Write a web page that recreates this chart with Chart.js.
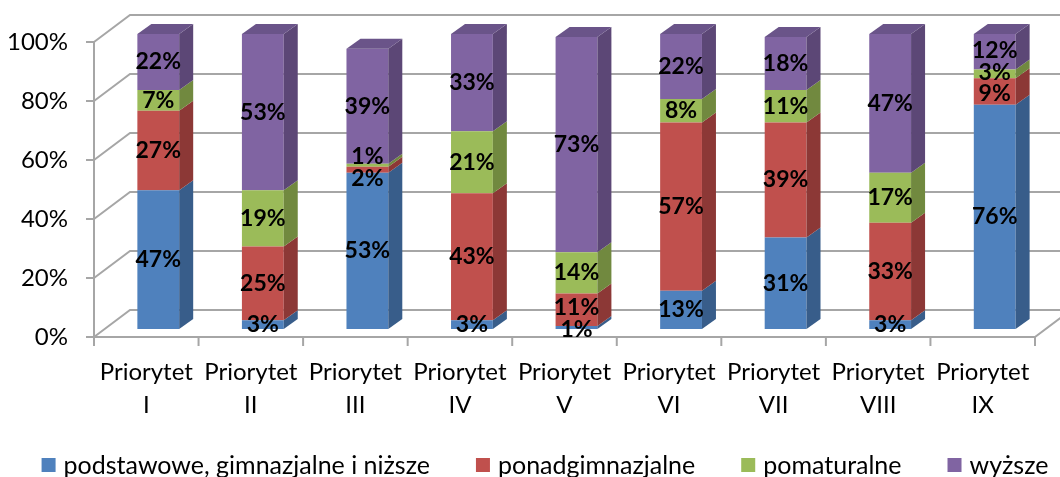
<!DOCTYPE html>
<html>
<head>
<meta charset="utf-8">
<script src="https://cdn.jsdelivr.net/npm/chart.js@4/dist/chart.umd.min.js"></script>
<style>
  html, body { margin: 0; padding: 0; background: #fff; }
  #wrap { width: 1060px; height: 477px; }
</style>
</head>
<body>
<div id="wrap"><canvas id="myChart" width="1060" height="477"></canvas></div>
<script>
// values (percent)
const categories = [
    ['Priorytet', 'I'], ['Priorytet', 'II'], ['Priorytet', 'III'],
    ['Priorytet', 'IV'], ['Priorytet', 'V'], ['Priorytet', 'VI'],
    ['Priorytet', 'VII'], ['Priorytet', 'VIII'], ['Priorytet', 'IX']
];
const seriesNames = ['podstawowe, gimnazjalne i niższe', 'ponadgimnazjalne', 'pomaturalne', 'wyższe'];
const podstawowe = [47, 3, 53, 3, 1, 13, 31, 3, 76];
const ponadgimnazjalne = [27, 25, 2, 43, 11, 57, 39, 33, 9];
const pomaturalne = [7, 19, 1, 21, 14, 8, 11, 17, 3];
const wyzsze = [22, 53, 39, 33, 73, 22, 18, 47, 12];
const yTicks = [0, 20, 40, 60, 80, 100];

const colors = ['#4f81bd', '#c0504d', '#9bbb59', '#8064a2'];
const sideColors = ['#385d8a', '#8c3836', '#71893f', '#5c4776'];
const topColors = ['#42699c', '#9c3f3c', '#7e9a48', '#6a5489'];

const FONT = 'Lato';
const gridColor = '#a6a6a6';
// 3d offsets relative to the bar front face
const front = { dx: -12, dy: 8 };
const back = { dx: 24, dy: -19 };
const barDepth = { dx: 14, dy: -10 };

function line(ctx, pts) {
    ctx.beginPath();
    ctx.moveTo(pts[0][0], pts[0][1]);
    for (let i = 1; i < pts.length; i++) ctx.lineTo(pts[i][0], pts[i][1]);
    ctx.stroke();
}
function poly(ctx, pts, color) {
    ctx.beginPath();
    ctx.moveTo(pts[0][0], pts[0][1]);
    for (let i = 1; i < pts.length; i++) ctx.lineTo(pts[i][0], pts[i][1]);
    ctx.closePath();
    ctx.fillStyle = color;
    ctx.fill();
}

const walls = {
    id: 'walls',
    beforeDatasetsDraw(chart) {
        const ctx = chart.ctx;
        const ys = chart.scales.y;
        const L = chart.chartArea.left, R = chart.chartArea.right;
        ctx.save();
        ctx.strokeStyle = gridColor;
        ctx.lineWidth = 2;
        yTicks.forEach(function(v) {
            const y = ys.getPixelForValue(v);
            line(ctx, [[L + front.dx, y + front.dy], [L + back.dx, y + back.dy], [R + back.dx + 30, y + back.dy]]);
            line(ctx, [[L + front.dx - 8, y + front.dy], [L + front.dx, y + front.dy]]);
        });
        const y0 = ys.getPixelForValue(0), y100 = ys.getPixelForValue(100);
        line(ctx, [[L + front.dx, y100 + front.dy], [L + front.dx, y0 + front.dy]]);
        line(ctx, [[L + front.dx, y0 + front.dy], [R + front.dx, y0 + front.dy], [R + back.dx, y0 + back.dy]]);
        const n = categories.length;
        for (let i = 0; i <= n; i++) {
            const x = L + front.dx + i * (R - L) / n;
            line(ctx, [[x, y0 + front.dy], [x, y0 + front.dy + 9]]);
        }
        ctx.restore();
    },
    afterDatasetsDraw(chart) {
        const ctx = chart.ctx;
        const top = chart.chartArea.top;
        const n = categories.length;
        ctx.save();
        for (let i = 0; i < n; i++) {
            let last = null;
            const labels = [];
            chart.data.datasets.forEach(function(ds, d) {
                const el = chart.getDatasetMeta(d).data[i];
                const v = ds.data[i];
                if (!v) return;
                const yt = Math.max(el.y, top), yb = el.base;
                const r = el.x + el.width / 2;
                poly(ctx, [[r, yt], [r + barDepth.dx, yt + barDepth.dy], [r + barDepth.dx, yb + barDepth.dy], [r, yb]], sideColors[d]);
                last = { el: el, d: d, yt: yt };
                labels.push({ text: v + '%', x: el.x, y: (yt + yb) / 2 });
            });
            if (last) {
                const l = last.el.x - last.el.width / 2, r = last.el.x + last.el.width / 2;
                poly(ctx, [[l, last.yt], [l + barDepth.dx, last.yt + barDepth.dy], [r + barDepth.dx, last.yt + barDepth.dy], [r, last.yt]], topColors[last.d]);
            }
            // push overlapping labels apart
            const minSep = 22;
            for (let k = 1; k < labels.length; k++) {
                const gap = labels[k - 1].y - labels[k].y;
                if (gap < minSep) {
                    const mid = (labels[k - 1].y + labels[k].y) / 2;
                    labels[k - 1].y = mid + minSep / 2;
                    labels[k].y = mid - minSep / 2;
                }
            }
            ctx.fillStyle = '#000';
            ctx.font = 'bold 23px ' + FONT;
            ctx.textAlign = 'center';
            ctx.textBaseline = 'middle';
            labels.forEach(function(lb) { ctx.fillText(lb.text, lb.x, lb.y); });
        }
        ctx.restore();
    },
    afterDraw(chart) {
        // legend row under the axis
        const ctx = chart.ctx;
        const box = 14, textGap = 8, itemGap = 46, cx = 545, cy = 465;
        ctx.save();
        ctx.font = '25px ' + FONT;
        const widths = seriesNames.map(function(s) { return ctx.measureText(s).width; });
        let total = itemGap * (seriesNames.length - 1);
        widths.forEach(function(w) { total += box + textGap + w; });
        let x = cx - total / 2;
        ctx.textAlign = 'left';
        ctx.textBaseline = 'middle';
        seriesNames.forEach(function(s, i) {
            ctx.fillStyle = colors[i];
            ctx.fillRect(x, cy - box / 2, box, box);
            ctx.fillStyle = '#000';
            ctx.fillText(s, x + box + textGap, cy + 1);
            x += box + textGap + widths[i] + itemGap;
        });
        ctx.restore();
    }
};

const seriesData = [podstawowe, ponadgimnazjalne, pomaturalne, wyzsze];

const ctx = document.getElementById('myChart').getContext('2d');
const myChart = new Chart(ctx, {
    type: 'bar',
    data: {
        labels: categories,
        datasets: seriesNames.map(function(name, i) {
            return {
                label: name,
                data: seriesData[i],
                backgroundColor: colors[i],
                borderWidth: 0,
                categoryPercentage: 1,
                barPercentage: 0.4
            };
        })
    },
    options: {
        responsive: false,
        animation: false,
        layout: { padding: { top: 34, right: 13, left: 0, bottom: 52 } },
        plugins: {
            tooltip: { enabled: false },
            legend: { display: false }
        },
        scales: {
            x: {
                stacked: true,
                grid: { display: false },
                border: { display: false },
                afterFit: function(scale) { scale.height = 96; },
                ticks: {
                    color: '#000',
                    padding: 18,
                    labelOffset: -12,
                    maxRotation: 0,
                    font: { family: FONT, size: 24, lineHeight: 1.4 }
                }
            },
            y: {
                stacked: true,
                min: 0,
                max: 100,
                grid: { display: false, drawTicks: false },
                border: { display: false },
                afterFit: function(scale) {
                    scale.width = 106;
                    // the big label padding should not push the plot down
                    scale.paddingTop = 0;
                    scale.paddingBottom = 0;
                },
                ticks: {
                    stepSize: 20,
                    color: '#000',
                    padding: 38,
                    labelOffset: 8,
                    font: { family: FONT, size: 24 },
                    callback: function(v) { return v + '%'; }
                }
            }
        }
    },
    plugins: [walls]
});
</script>
</body>
</html>
